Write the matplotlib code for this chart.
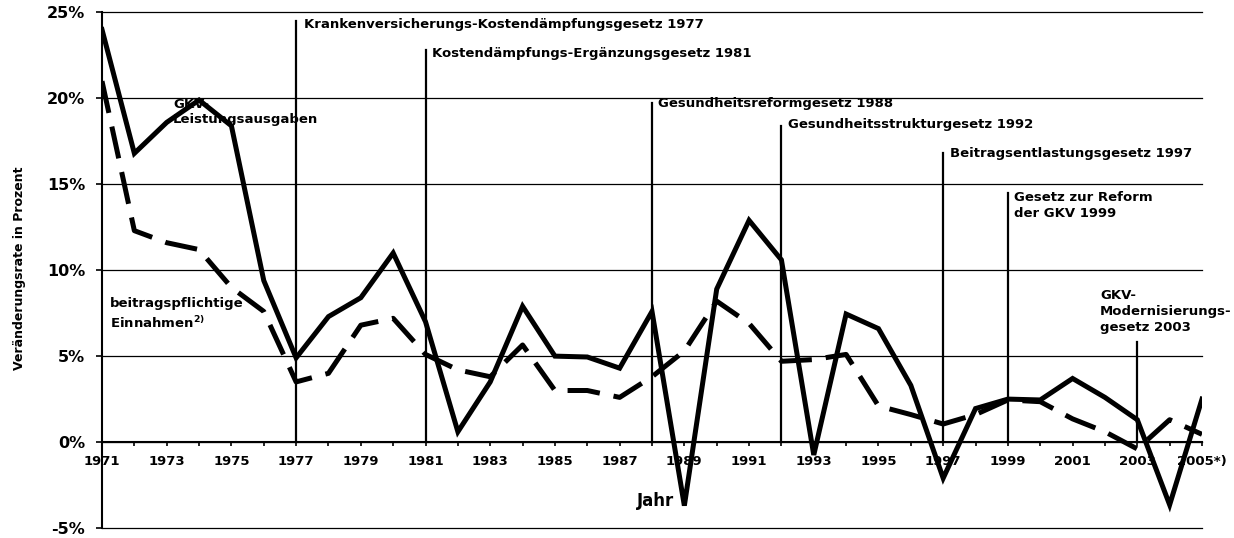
import matplotlib
matplotlib.use("Agg")
import matplotlib.pyplot as plt

plt.rcParams["font.family"] = ["DejaVu Sans"]
plt.rcParams["axes.unicode_minus"] = False

# --- data ---
years = list(range(1971, 2006))
ausgaben = [24.0, 16.8, 18.6, 19.9, 18.4, 9.4, 4.9, 7.3, 8.4, 11.0,
            7.0, 0.6, 3.5, 7.9, 5.0, 4.95, 4.3, 7.6, -3.7, 8.9,
            12.9, 10.6, -0.75, 7.45, 6.6, 3.3, -2.1, 1.95, 2.5, 2.45,
            3.7, 2.6, 1.3, -3.65, 2.5]
einnahmen = [21.0, 12.3, 11.6, 11.2, 9.0, 7.6, 3.5, 4.0, 6.8, 7.2,
             5.1, 4.2, 3.8, 5.65, 3.0, 3.0, 2.6, 3.8, 5.3, 8.2,
             6.9, 4.7, 4.8, 5.1, 2.1, 1.6, 1.05, 1.6, 2.45, 2.35,
             1.35, 0.6, -0.4, 1.3, 0.45]

law_years = [1977, 1981, 1988, 1992, 1997, 1999, 2003]
law_tops = [24.5, 22.8, 19.7, 18.4, 16.8, 14.5, 5.8]
law_labels = [
    "Krankenversicherungs-Kostendämpfungsgesetz 1977",
    "Kostendämpfungs-Ergänzungsgesetz 1981",
    "Gesundheitsreformgesetz 1988",
    "Gesundheitsstrukturgesetz 1992",
    "Beitragsentlastungsgesetz 1997",
    "Gesetz zur Reform\nder GKV 1999",
    "GKV-\nModernisierungs-\ngesetz 2003",
]

y_ticks = [-5, 0, 5, 10, 15, 20, 25]
x_tick_labels = [str(y) if (y - 1971) % 2 == 0 else "" for y in years]
x_tick_labels[-1] = "2005*)"

# --- figure ---
fig = plt.figure(figsize=(12.34, 5.38), dpi=100)
ax = fig.add_axes([102 / 1234, 10 / 538, 1100 / 1234, 515.6 / 538])

ax.set_xlim(1971, 2005)
ax.set_ylim(-5, 25)

for yv in y_ticks:
    ax.axhline(yv, color="black", lw=0.9, zorder=1, clip_on=False)

for yr, top in zip(law_years, law_tops):
    ax.plot([yr, yr], [0, top], color="black", lw=1.6, zorder=2)

ax.plot(years, ausgaben, color="black", lw=3.6, solid_joinstyle="miter", zorder=4)
ax.plot(years, einnahmen, color="black", lw=3.6, dashes=(6.5, 2.8), zorder=3)

# law annotations (text placement per label)
law_text_xy = [(1977.25, 24.3), (1981.2, 22.6), (1988.2, 19.7), (1992.2, 18.45),
               (1997.2, 16.8), (1999.2, 13.75), (2001.85, 7.6)]
txt = dict(fontsize=9.5, fontweight="bold", va="center", ha="left", zorder=5)
for (tx, ty), lab in zip(law_text_xy, law_labels):
    ax.text(tx, ty, lab, linespacing=1.3, **txt)

ax.text(1973.2, 19.2, "GKV-\nLeistungsausgaben", linespacing=1.2, **txt)
ax.text(1971.25, 7.45, "beitragspflichtige\nEinnahmen$^{\\mathbf{2)}}$", linespacing=1.35, **txt)
ax.text(1988.1, -3.4, "Jahr", fontsize=12, fontweight="bold", va="center", ha="center", zorder=5)

# axes styling
for side in ["top", "right"]:
    ax.spines[side].set_visible(False)
ax.spines["left"].set_linewidth(1.5)
ax.spines["bottom"].set_position(("data", 0))
ax.spines["bottom"].set_linewidth(1.5)

ax.set_yticks(y_ticks)
ax.set_yticklabels([f"{v}%" for v in y_ticks], fontsize=11.5, fontweight="bold")
ax.tick_params(axis="y", direction="out", length=4, width=1.2, pad=8)

ax.set_xticks(years)
ax.set_xticklabels(x_tick_labels, fontsize=9.5, fontweight="bold")
ax.tick_params(axis="x", direction="out", length=3, width=1.2, pad=6)

fig.text(20 / 1234, 1 - 268 / 538, "Veränderungsrate in Prozent", rotation=90,
         fontsize=9, fontweight="bold", va="center", ha="center")

fig.savefig("out.png", dpi=100)
